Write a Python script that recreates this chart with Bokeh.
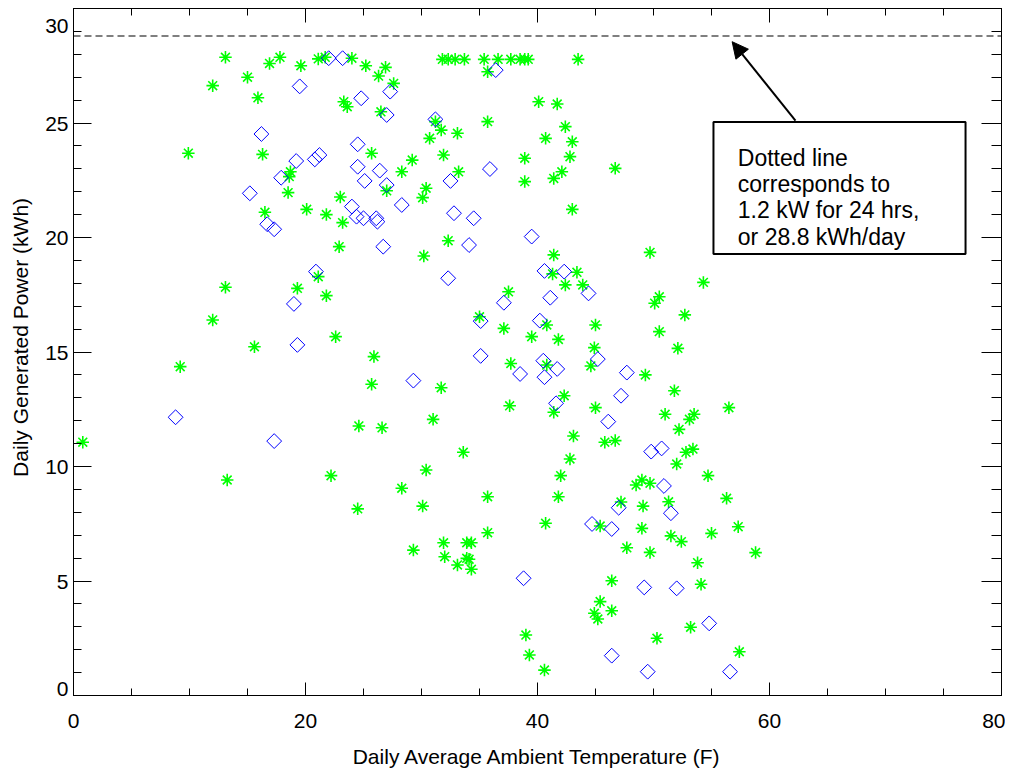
import numpy as np
from bokeh.plotting import figure
from bokeh.models import (ColumnDataSource, LinearAxis, Range1d, FixedTicker,
                          Span, BoxAnnotation, Label, Arrow, NormalHead)
from bokeh.embed import file_html
from bokeh.resources import INLINE

# ---------------- data ----------------
green_temp = [
    13.1, 12.0, 15.0, 15.9, 16.9, 17.8, 19.6, 21.1, 21.7, 9.9, 16.3, 18.7, 18.6, 18.5, 16.5, 20.1,
    21.8, 23.0, 22.9, 23.2, 23.3, 23.6,
    24.0, 25.2, 26.9, 26.3, 27.6, 31.8, 32.3, 32.9, 33.7, 35.4, 36.6, 37.7, 38.5, 38.9, 39.2, 43.5,
    35.7, 26.5, 40.1, 41.7, 35.7, 31.2, 31.7, 33.1, 30.7, 42.4, 40.7, 43.0, 42.8, 25.7, 29.2, 31.9,
    38.9, 28.3, 33.2, 42.1, 41.4, 38.9, 46.7, 27.0, 30.4, 30.1, 43.0, 32.3, 41.4, 30.2, 49.7,
    0.8, 9.2, 12.0, 13.1, 13.25, 15.6, 19.3, 21.1, 21.8, 22.6, 22.2,
    41.3, 43.4, 42.4, 43.9, 37.5, 50.5, 50.1, 35.0, 40.8, 45.0, 37.1, 50.5, 39.5, 41.8, 44.9, 25.9,
    37.7, 40.8, 44.6, 49.3, 25.7, 31.7, 42.3, 41.4, 37.6, 45.0, 51.8, 31.0, 24.6, 26.6, 43.1, 45.8,
    46.7, 33.6, 42.8, 30.4, 42.0, 28.3, 35.7, 41.8, 24.5, 30.1, 48.5, 49.0, 49.7, 47.2, 49.1, 51.3,
    54.3, 52.7, 52.1, 51.0, 53.5, 53.1, 52.2, 56.5, 53.4, 52.8, 52.0, 54.7, 56.3,
    40.7, 35.7, 29.3, 31.9, 32.0, 33.9, 34.3, 33.1, 33.9, 34.1, 34.3, 39.0, 39.3, 40.6, 45.4, 49.0,
    47.7, 49.7, 46.4, 45.4, 44.9, 45.2, 46.4, 50.3,
    51.5, 52.4, 55.0, 57.3, 58.8, 53.8, 54.1, 53.2, 57.4,
]
green_power = [
    27.87, 26.63, 27.0, 26.1, 27.6, 27.87, 27.5, 27.8, 27.87, 23.68, 23.63, 22.87, 22.66, 21.96, 21.1, 21.23,
    21.0, 21.77, 19.6, 20.65, 25.93, 25.71,
    27.83, 27.5, 27.43, 27.05, 26.73, 27.78, 27.78, 27.78, 27.78, 27.78, 27.78, 27.78, 27.78, 27.78, 27.78, 27.78,
    27.24, 25.49, 25.93, 25.83, 25.06, 25.06, 24.69, 24.55, 24.33, 24.84, 24.33, 24.18, 23.53, 23.68, 23.38, 23.6,
    23.46, 22.87, 22.87, 22.87, 22.58, 22.44, 23.02, 22.04, 22.15, 21.74, 21.23, 19.86, 19.24, 19.19, 19.35,
    11.06, 14.36, 16.4, 17.83, 9.41, 15.23, 17.78, 18.29, 17.46, 15.67, 9.6,
    18.41, 18.48, 17.93, 17.93, 17.63, 17.41, 17.13, 16.54, 16.18, 16.18, 16.03, 15.89, 15.67, 15.55, 15.19, 14.8,
    14.5, 14.43, 14.39, 14.0, 13.59, 13.44, 13.09, 12.37, 12.65, 12.57, 13.31, 12.06, 11.77, 11.69, 11.33, 11.06,
    11.13, 10.62, 10.33, 9.85, 9.6, 9.05, 8.68, 8.68, 8.15, 8.27, 9.19, 9.41, 9.27, 8.45, 8.27, 8.46,
    18.04, 16.62, 15.16, 12.28, 12.28, 12.06, 11.62, 12.57, 10.76, 10.62, 10.11, 9.6, 8.61,
    7.52, 7.11, 6.35, 6.67, 6.06, 6.67, 6.67, 5.7, 5.99, 5.95, 5.51, 2.64, 1.77, 1.11, 7.4, 7.3,
    6.45, 6.25, 5.01, 4.1, 3.59, 3.34, 3.7, 2.5,
    6.97, 6.72, 7.08, 7.37, 6.24, 5.8, 4.86, 2.98, 1.91,
]
blue_temp = [
    22.0, 23.2, 19.5, 16.2, 20.8, 21.2, 19.2, 17.9, 15.2, 16.7, 17.3,
    36.4, 27.3, 24.8, 27.0, 31.2, 24.5, 24.5, 26.4, 25.1, 27.0, 32.5, 35.9, 28.3, 24.0, 24.4, 25.0,
    26.1, 26.2, 32.8, 34.5, 26.7, 34.1, 39.5,
    20.9, 19.0, 19.3, 8.8, 17.3,
    32.3, 40.6, 42.3, 44.4, 37.1, 41.1, 35.1, 40.2, 35.1, 40.5, 41.7, 40.6, 45.2, 38.5, 47.7, 29.3,
    41.6, 47.2, 46.1, 49.8, 50.7, 50.9, 47.0,
    38.8, 44.7, 46.4, 49.2, 46.4, 49.5, 51.5, 52.0, 54.8, 56.6,
]
blue_power = [
    27.83, 27.83, 26.6, 24.52, 23.41, 23.6, 23.34, 22.61, 21.93, 20.58, 20.36,
    27.31, 26.37, 26.08, 25.35, 25.16, 24.07, 23.09, 22.92, 22.47, 22.29, 22.47, 22.99, 21.42, 21.35, 20.91, 20.84,
    20.84, 20.69, 21.06, 20.84, 19.6, 19.67, 20.04,
    18.51, 17.1, 15.31, 12.15, 11.11,
    18.22, 18.54, 18.51, 17.56, 17.15, 17.37, 16.35, 16.37, 14.83, 14.62, 14.26, 13.9, 14.69, 14.04, 14.1, 13.75,
    12.76, 13.09, 11.96, 10.65, 10.79, 9.15, 8.2,
    5.12, 7.49, 7.27, 4.72, 1.74, 1.04, 7.96, 4.68, 3.15, 1.04,
]
x_tick_values = [0, 20, 40, 60, 80]
x_minor_tick_values = list(range(0, 81, 5))
y_tick_values = [0, 5, 10, 15, 20, 25, 30]
y_minor_tick_values = list(range(0, 31))
# end labels are nudged inside the frame, as in the original
y_label_overrides = {0: "0\n", 30: "\n30"}
rated_daily_kwh = 28.8
note_lines = ["Dotted line", "corresponds to", "1.2 kW for 24 hrs,", "or 28.8 kWh/day"]
x_title = "Daily Average Ambient Temperature (F)"
y_title = "Daily Generated Power (kWh)"

FONT = "Liberation Sans"

p = figure(frame_width=928, frame_height=687,
           x_range=Range1d(0, 80), y_range=Range1d(0, 30),
           output_backend="svg", toolbar_location=None,
           x_axis_label=x_title,
           # non-breaking padding lifts the centred title slightly, as in the original
           y_axis_label="\u00a0" * 5 + y_title,
           min_border_left=73, min_border_right=4, min_border_top=8, min_border_bottom=0,
           background_fill_color="white", border_fill_color="white")
p.grid.visible = False
p.outline_line_color = "black"


def style(ax, major_in, minor_in, labels=True):
    ax.major_tick_in = major_in
    ax.major_tick_out = 0
    ax.minor_tick_in = minor_in
    ax.minor_tick_out = 0
    ax.axis_line_color = "black"
    ax.major_tick_line_color = "black"
    ax.minor_tick_line_color = "black"
    ax.major_label_text_font = FONT
    ax.major_label_text_color = "black"
    ax.major_label_text_font_size = "21px"
    ax.axis_label_text_font = FONT
    ax.axis_label_text_font_style = "normal"
    ax.axis_label_text_color = "black"
    ax.axis_label_text_font_size = "21px"
    if not labels:
        ax.major_label_text_color = None
        ax.major_label_standoff = 0


xa = p.xaxis[0]
xa.ticker = FixedTicker(ticks=x_tick_values, minor_ticks=x_minor_tick_values)
style(xa, 13, 7)
xa.major_label_standoff = 18
xa.axis_label_standoff = 14

ya = p.yaxis[0]
ya.ticker = FixedTicker(ticks=y_tick_values, minor_ticks=y_minor_tick_values)
ya.major_label_overrides = y_label_overrides
style(ya, 18, 8)
ya.major_label_text_line_height = 0.6
ya.major_label_standoff = 5
ya.axis_label_standoff = 10

top = LinearAxis(ticker=FixedTicker(ticks=x_tick_values, minor_ticks=x_minor_tick_values))
style(top, 14, 7, labels=False)
p.add_layout(top, "above")
right = LinearAxis(ticker=FixedTicker(ticks=y_tick_values, minor_ticks=y_minor_tick_values))
style(right, 20, 10, labels=False)
p.add_layout(right, "right")

green = ColumnDataSource(dict(x=green_temp, y=green_power))
blue = ColumnDataSource(dict(x=blue_temp, y=blue_power))

p.scatter("x", "y", source=green, marker="asterisk", size=12.5,
          line_color="#00ff00", line_width=1.6)
p.scatter("x", "y", source=blue, marker="square", angle=np.pi / 4, size=10.5,
          fill_color=None, line_color="#0000ff", line_width=1)

p.add_layout(Span(location=rated_daily_kwh, dimension="width", line_color="black",
                  line_dash="7 4", line_width=1.2))

p.add_layout(BoxAnnotation(left=55.17, right=76.9, bottom=19.28, top=25.04,
                           fill_color="white", fill_alpha=1.0,
                           line_color="black", line_width=2, line_alpha=1.0))
for i, line in enumerate(note_lines):
    p.add_layout(Label(x=57.27, y=23.46 - i * 1.14, text=line, text_font=FONT,
                       text_font_size="23px", text_color="black",
                       text_baseline="alphabetic", text_align="left"))

p.add_layout(Arrow(end=NormalHead(size=16, fill_color="black", line_color="black"),
                   x_start=62.24, y_start=25.1, x_end=56.78, y_end=28.55,
                   line_color="black", line_width=2))

open("out.html", "w").write(file_html(p, INLINE))
